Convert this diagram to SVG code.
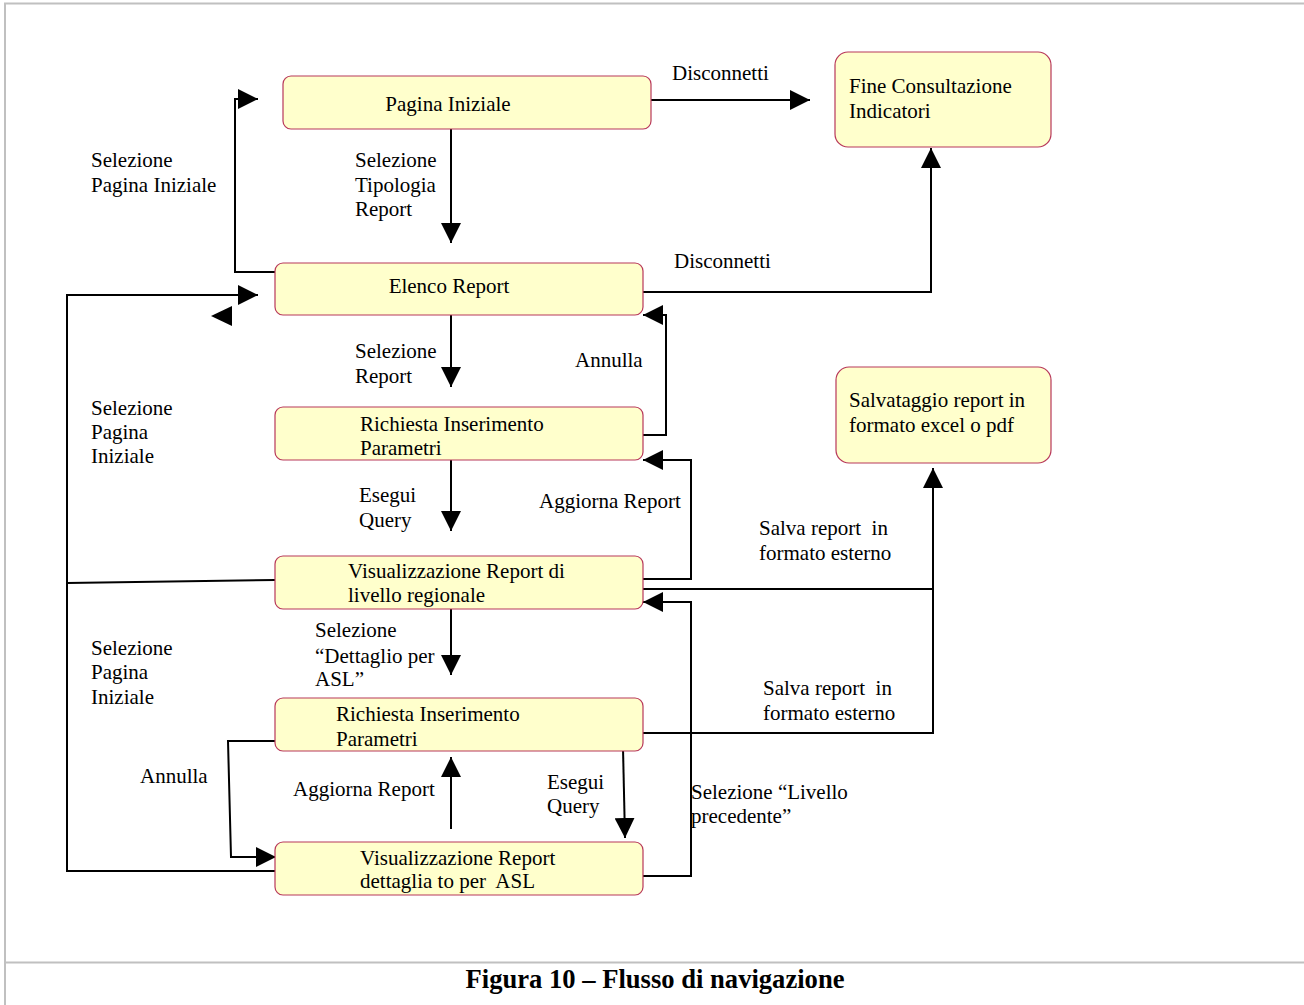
<svg xmlns="http://www.w3.org/2000/svg" width="1304" height="1005" viewBox="0 0 1304 1005">
<style>
.box{fill:#ffffcc;stroke:#b8385a;stroke-width:1.2}
.t{font-family:"Liberation Serif","Times New Roman",serif;font-size:21px;fill:#000;white-space:pre}
.c{text-anchor:middle}
.ln{fill:none;stroke:#000;stroke-width:2}
.frame{stroke:#c0c0c0;stroke-width:2;fill:none}
.cap{font-family:"Liberation Serif","Times New Roman",serif;font-size:26.6px;font-weight:bold;text-anchor:middle}
</style>
<defs>
<marker id="ah" markerUnits="userSpaceOnUse" markerWidth="20" markerHeight="20" refX="20" refY="10" orient="auto" viewBox="0 0 20 20">
<path d="M0,0 L20,10 L0,20 z" fill="#000"/>
</marker>
</defs>
<rect width="1304" height="1005" fill="#fff"/>
<g id="frame">
<line class="frame" x1="4" y1="3.5" x2="1304" y2="3.5"/>
<line class="frame" x1="5" y1="3" x2="5" y2="1005"/>
<line class="frame" x1="4" y1="962.5" x2="1304" y2="962.5"/>
</g>
<g id="connectors">
<path class="ln" d="M651,100 H810" marker-end="url(#ah)"/>
<path class="ln" d="M451,129 V243" marker-end="url(#ah)"/>
<path class="ln" d="M275,272 H235 V99 H258" marker-end="url(#ah)"/>
<path class="ln" d="M643,292 H931 V148" marker-end="url(#ah)"/>
<path class="ln" d="M451,315 V387" marker-end="url(#ah)"/>
<path class="ln" d="M643,435 H666 V315 H643" marker-end="url(#ah)"/>
<path class="ln" d="M451,460 V531" marker-end="url(#ah)"/>
<path class="ln" d="M643,579 H691 V460 H643" marker-end="url(#ah)"/>
<path class="ln" d="M643,589 H933 V468" marker-end="url(#ah)"/>
<path class="ln" d="M451,609 V675" marker-end="url(#ah)"/>
<path class="ln" d="M643,733 H933 V589"/>
<path class="ln" d="M623,748 L625,838" marker-end="url(#ah)"/>
<path class="ln" d="M451,829 V757" marker-end="url(#ah)"/>
<path class="ln" d="M275,741 H228 L231,857 H276" marker-end="url(#ah)"/>
<path class="ln" d="M643,876 H691 V602 H643" marker-end="url(#ah)"/>
<path class="ln" d="M275,871 H67 V295 H258" marker-end="url(#ah)"/>
<path class="ln" d="M275,580 L67,583"/>
<polygon points="211,316 232,306 232,326" fill="#000"/>
</g>
<g id="n-pagina">
<rect class="box" x="283" y="76" width="368" height="53" rx="8"/>
<text class="t c" x="448" y="111">Pagina Iniziale</text>
</g>
<g id="n-fine">
<rect class="box" x="835" y="52" width="216" height="95" rx="13"/>
<text class="t" x="849" y="93">Fine Consultazione</text>
<text class="t" x="849" y="118">Indicatori</text>
</g>
<g id="n-elenco">
<rect class="box" x="275" y="263" width="368" height="52" rx="8"/>
<text class="t c" x="449" y="293">Elenco Report</text>
</g>
<g id="n-richiesta1">
<rect class="box" x="275" y="407" width="368" height="53" rx="8"/>
<text class="t" x="360" y="431">Richiesta Inserimento</text>
<text class="t" x="360" y="455">Parametri</text>
</g>
<g id="n-salvataggio">
<rect class="box" x="836" y="367" width="215" height="96" rx="13"/>
<text class="t" x="849" y="407">Salvataggio report in</text>
<text class="t" x="849" y="432">formato excel o pdf</text>
</g>
<g id="n-vis1">
<rect class="box" x="275" y="556" width="368" height="53" rx="8"/>
<text class="t" x="348" y="578">Visualizzazione Report di</text>
<text class="t" x="348" y="602">livello regionale</text>
</g>
<g id="n-richiesta2">
<rect class="box" x="275" y="698" width="368" height="53" rx="8"/>
<text class="t" x="336" y="721">Richiesta Inserimento</text>
<text class="t" x="336" y="746">Parametri</text>
</g>
<g id="n-vis2">
<rect class="box" x="275" y="842" width="368" height="53" rx="8"/>
<text class="t" x="360" y="865">Visualizzazione Report</text>
<text class="t" x="360" y="888">dettaglia to per  ASL</text>
</g>
<g id="labels">
<text class="t" x="672" y="80">Disconnetti</text>
<text class="t" x="91" y="167">Selezione</text>
<text class="t" x="91" y="192">Pagina Iniziale</text>
<text class="t" x="355" y="167">Selezione</text>
<text class="t" x="355" y="192">Tipologia</text>
<text class="t" x="355" y="216">Report</text>
<text class="t" x="674" y="268">Disconnetti</text>
<text class="t" x="355" y="358">Selezione</text>
<text class="t" x="355" y="383">Report</text>
<text class="t" x="575" y="367">Annulla</text>
<text class="t" x="91" y="415">Selezione</text>
<text class="t" x="91" y="439">Pagina</text>
<text class="t" x="91" y="463">Iniziale</text>
<text class="t" x="359" y="502">Esegui</text>
<text class="t" x="359" y="527">Query</text>
<text class="t" x="539" y="508">Aggiorna Report</text>
<text class="t" x="759" y="535">Salva report  in</text>
<text class="t" x="759" y="560">formato esterno</text>
<text class="t" x="315" y="637">Selezione</text>
<text class="t" x="315" y="663">“Dettaglio per</text>
<text class="t" x="315" y="686">ASL”</text>
<text class="t" x="91" y="655">Selezione</text>
<text class="t" x="91" y="679">Pagina</text>
<text class="t" x="91" y="704">Iniziale</text>
<text class="t" x="763" y="695">Salva report  in</text>
<text class="t" x="763" y="720">formato esterno</text>
<text class="t" x="140" y="783">Annulla</text>
<text class="t" x="293" y="796">Aggiorna Report</text>
<text class="t" x="547" y="789">Esegui</text>
<text class="t" x="547" y="813">Query</text>
<text class="t" x="691" y="799">Selezione “Livello</text>
<text class="t" x="691" y="823">precedente”</text>
</g>
<text class="cap" x="655" y="988">Figura 10 – Flusso di navigazione</text>
</svg>
